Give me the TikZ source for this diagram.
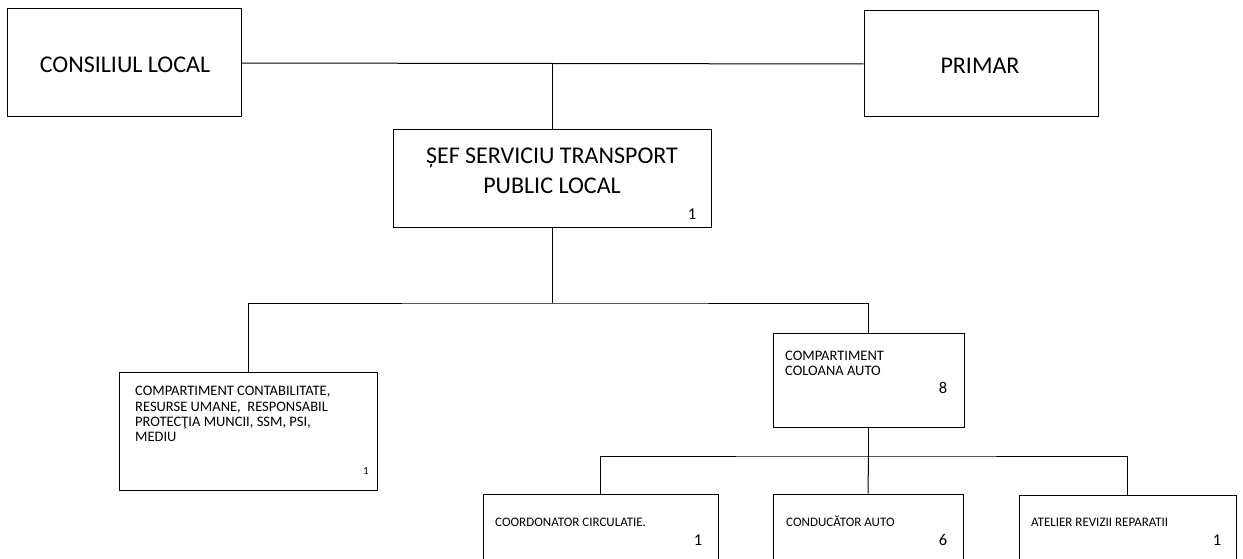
\documentclass[tikz,border=0pt]{standalone}
\usepackage{fontspec}
\setmainfont{Carlito}
\begin{document}
\begin{tikzpicture}[x=1pt,y=-1pt,
  box/.style={draw, line width=1pt, inner sep=0pt, anchor=center},
  big/.style={font=\fontsize{24}{30}\selectfont, align=center, inner sep=0pt},
  small/.style={font=\fontsize{14.5}{15.3}\selectfont, align=left, anchor=west, inner sep=0pt},
  tiny/.style={font=\fontsize{13}{15}\selectfont, anchor=base west, inner sep=0pt},
  num/.style={font=\fontsize{16.5}{18}\selectfont, inner sep=0pt, anchor=base},
  conn/.style={line width=1pt}]
\useasboundingbox (0,0) rectangle (1243,559);
\clip (0,0) rectangle (1243,559);
% top row
\node[box, minimum width=234pt, minimum height=108pt] (cl) at (124,63) {};
\node[big] (cltxt) at (125,65) {CONSILIUL LOCAL};
\node[box, minimum width=234pt, minimum height=106pt] (pr) at (981,64) {};
\node[big] (prtxt) at (980,66) {PRIMAR};
% sef
\node[box, minimum width=318pt, minimum height=97pt] (sef) at (552,178.5) {};
\node[big] (seftxt) at (552,171) {ȘEF SERVICIU TRANSPORT\\PUBLIC LOCAL};
\node[num] (sefn) at (692,219) {1};
% second level
\node[box, minimum width=258pt, minimum height=118pt] (cont) at (248,431) {};
\node[small] (conttxt) at (135,414) {COMPARTIMENT CONTABILITATE,\\RESURSE UMANE,\ \ RESPONSABIL\\PROTECŢIA MUNCII, SSM, PSI,\\MEDIU};
\node[num, font=\fontsize{11}{13}\selectfont] (contn) at (366,474) {1};
\node[box, minimum width=191pt, minimum height=94pt] (col) at (868.5,380) {};
\node[small] (coltxt) at (785,363.5) {COMPARTIMENT\\COLOANA AUTO};
\node[num] (coln) at (943,393) {8};
% third level
\node[box, minimum width=235pt, minimum height=70pt] (coord) at (600.5,529) {};
\node[tiny] (coordtxt) at (495,526.5) {COORDONATOR CIRCULATIE.};
\node[num] (coordn) at (698,545.5) {1};
\node[box, minimum width=190pt, minimum height=70pt] (cond) at (868,529) {};
\node[tiny] (condtxt) at (786,526.5) {CONDUCĂTOR AUTO};
\node[num] (condn) at (943,545.5) {6};
\node[box, minimum width=217pt, minimum height=70pt] (atel) at (1127.5,530) {};
\node[tiny] (ateltxt) at (1031,526.5) {ATELIER REVIZII REPARATII};
\node[num] (ateln) at (1217,545.5) {1};
% connectors
\coordinate (j1) at (552,63);
\coordinate (j2) at (552,303);
\coordinate (j3) at (868.5,456);
\draw[conn] (cl.east) -- (pr.west);
\draw[conn] (j1) -- (sef.north);
\draw[conn] (sef.south) -- (j2);
\draw[conn] (cont.north) |- (j2) -| (col.north);
\draw[conn] (col.south) -- (j3);
\draw[conn] (coord.north) |- (j3) -| (atel.north);
\draw[conn] (j3) -- (cond.north);
\end{tikzpicture}
\end{document}
